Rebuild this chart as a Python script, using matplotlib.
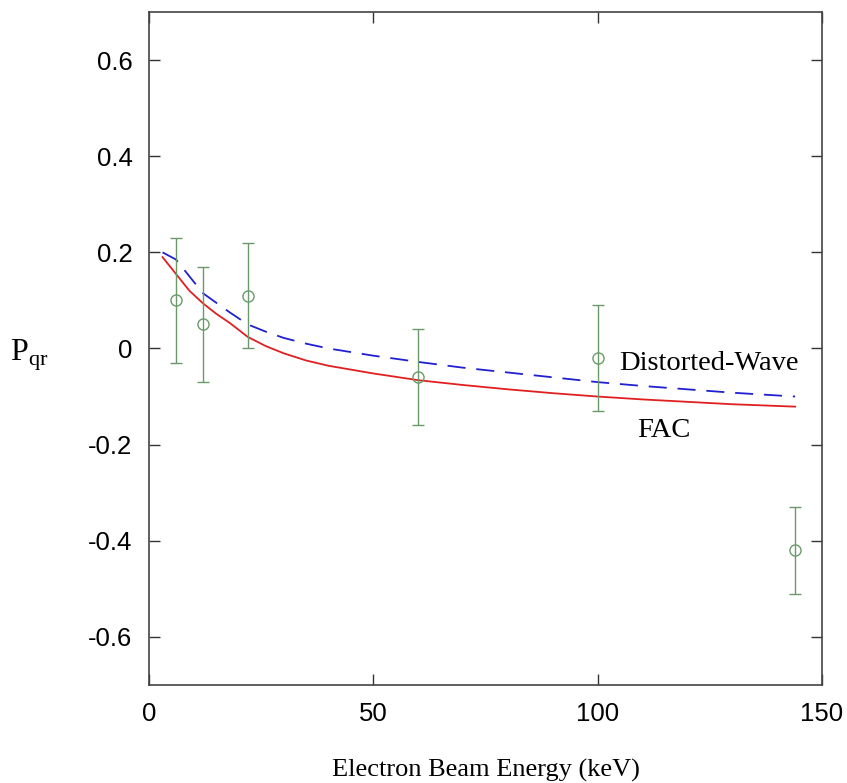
import numpy as np
import matplotlib
matplotlib.use("Agg")
import matplotlib.pyplot as plt

# measured points
energy = [6, 12, 22, 60, 100, 144]
pqr = [0.10, 0.05, 0.11, -0.06, -0.02, -0.42]
err = [0.13, 0.12, 0.11, 0.10, 0.11, 0.09]

# theory curves
e_theory = [3, 6, 9, 12, 15, 18, 22, 26, 30, 35, 40, 50, 60, 70, 80, 90, 100, 110, 120, 130, 144]
fac = [0.19, 0.155, 0.12, 0.094, 0.072, 0.053, 0.024, 0.005, -0.01, -0.025, -0.036, -0.052,
       -0.066, -0.076, -0.085, -0.093, -0.1, -0.106, -0.111, -0.116, -0.121]
dw = [0.2, 0.185, 0.15, 0.115, 0.095, 0.075, 0.05, 0.035, 0.022, 0.01, 0.0, -0.015,
      -0.028, -0.04, -0.05, -0.06, -0.07, -0.078, -0.085, -0.092, -0.1]

fig = plt.figure(figsize=(8.47, 7.83), dpi=100)
ax = fig.add_axes([0.176, 0.1252, 0.7945, 0.8595])

ax.plot(e_theory, fac, color='#e02020', lw=1.3)
ax.plot(e_theory, dw, color='#2020d0', lw=1.3, dashes=(10, 6))
ax.errorbar(energy, pqr, yerr=err, fmt='o', mfc='none', mec='#6a9a6a', ecolor='#6a9a6a',
            ms=8, mew=1, elinewidth=1, capsize=4, capthick=1)

ax.text(124.8, -0.031, 'Distorted-Wave', family='Liberation Serif', fontsize=20.5, ha='center', va='center')
ax.text(114.8, -0.171, 'FAC', family='Liberation Serif', fontsize=20.5, ha='center', va='center')

ax.set_xlim(0, 150)
ax.set_ylim(-0.7, 0.7)
ax.set_xticks([0, 50, 100, 150])
ax.set_yticks([-0.6, -0.4, -0.2, 0, 0.2, 0.4, 0.6])
ax.set_yticklabels(['-0.6', '-0.4', '-0.2', '0', '0.2', '0.4', '0.6'])
ax.tick_params(direction='in', length=8, width=1, top=True, right=True, labelsize=18.5,
               pad=12, color='#333333')
for lab in ax.get_xticklabels() + ax.get_yticklabels():
    lab.set_family('Liberation Sans')
for s in ax.spines.values():
    s.set_color('#444444')
    s.set_linewidth(1.2)

ax.set_xlabel('Electron Beam Energy (keV)', family='Liberation Serif', fontsize=19, labelpad=24)
fig.text(0.035, 0.546, r'P$_{\mathregular{qr}}$', family='Liberation Serif', fontsize=23,
         ha='center', va='center')

fig.savefig('out.png', dpi=100)
